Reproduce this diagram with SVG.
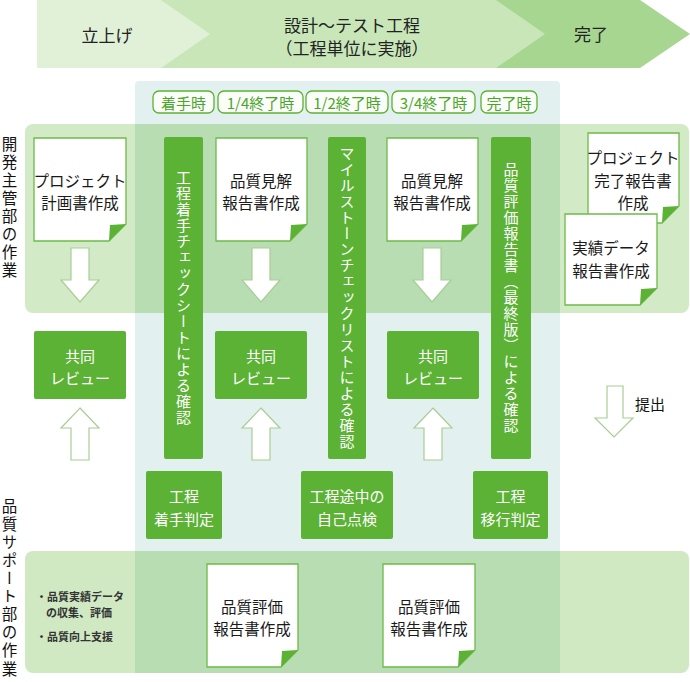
<svg xmlns="http://www.w3.org/2000/svg" width="690" height="682" viewBox="0 0 690 682">
<style>
text{font-family:"Noto Sans CJK JP","Noto Sans",sans-serif;}
.ban{font-size:17px;fill:#222;text-anchor:middle;dominant-baseline:central;}
.lbl{fill:#fbfdf9;stroke:#5cb234;stroke-width:1.3;}
.lblt{font-size:15px;fill:#4ca52b;text-anchor:middle;dominant-baseline:central;}
.doc{fill:#fff;stroke:#6cbb48;stroke-width:1.3;}
.fold{fill:#5cb234;}
.dt{font-size:15.5px;fill:#1a1a1a;text-anchor:middle;dominant-baseline:central;}
.box{fill:#5cb234;}
.bt{font-size:15px;fill:#fff;text-anchor:middle;dominant-baseline:central;}
.vt{font-size:15px;fill:#fff;writing-mode:vertical-rl;text-anchor:middle;letter-spacing:1px;}
.side{font-size:15.5px;fill:#111;writing-mode:vertical-rl;letter-spacing:2.6px;}
.arr{fill:#fff;stroke:#a9cd95;stroke-width:1.2;}
.note{font-size:11px;fill:#333;font-weight:bold;}
</style>

<g id="banner">
  <polygon points="480,0 640,0 690,34 640,68 480,68" fill="#a6d68f"/>
  <polygon points="161,0 496,0 545,34 496,68 161,68" fill="#c8e6b8"/>
  <polygon points="37,0 161,0 210,34 161,68 37,68" fill="#e0f1d8"/>
  <text class="ban" x="107" y="34">立上げ</text>
  <text class="ban" x="352" y="24">設計〜テスト工程</text>
  <text class="ban" x="352" y="47">（工程単位に実施）</text>
  <text class="ban" x="591" y="33">完了</text>
</g>

<g id="backgrounds">
  <rect x="135" y="81" width="425" height="592" rx="4" fill="#e3f0f0"/>
  <rect x="25" y="124" width="664" height="189" rx="8" fill="#d3eac7"/>
  <rect x="135" y="124" width="425" height="189" fill="#b9ddb2"/>
  <rect x="25" y="551" width="664" height="122" rx="8" fill="#d0e9c3"/>
  <rect x="135" y="551" width="425" height="122" fill="#b9ddb2"/>
</g>

<g id="side-labels">
  <text class="side" x="9.5" y="136">開発主管部の作業</text>
  <text class="side" x="9.5" y="498">品質サポート部の作業</text>
</g>

<g id="time-labels">
  <rect class="lbl" x="153" y="91" width="61" height="22" rx="6"/>
  <text class="lblt" x="183.5" y="102">着手時</text>
  <rect class="lbl" x="218" y="91" width="85" height="22" rx="6"/>
  <text class="lblt" x="260.5" y="102">1/4終了時</text>
  <rect class="lbl" x="306" y="91" width="82" height="22" rx="6"/>
  <text class="lblt" x="347" y="102">1/2終了時</text>
  <rect class="lbl" x="392" y="91" width="83" height="22" rx="6"/>
  <text class="lblt" x="433.5" y="102">3/4終了時</text>
  <rect class="lbl" x="481" y="91" width="56" height="22" rx="6"/>
  <text class="lblt" x="509" y="102">完了時</text>
</g>

<g id="connectors">
  <path class="arr" d="M71,248 H89 V280 H99 L80,302 L61,280 H71 Z"/>
  <path class="arr" d="M252,248 H270 V280 H280 L261,302 L242,280 H252 Z"/>
  <path class="arr" d="M423,248 H441 V280 H451 L432,302 L413,280 H423 Z"/>
  <path class="arr" d="M80,408 L99,428 H89 V460 H71 V428 H61 Z"/>
  <path class="arr" d="M261,408 L280,428 H270 V460 H252 V428 H242 Z"/>
  <path class="arr" d="M433,408 L452,428 H442 V460 H424 V428 H414 Z"/>
  <path class="arr" d="M607,386 H623 V418 H633 L614,437 L595,418 H607 Z"/>
  <text x="635" y="403" font-size="15" fill="#111" dominant-baseline="central">提出</text>
</g>

<g id="doc-plan">
  <path class="doc" d="M34,138 H126 V224 L109,241 H34 Z"/>
  <path class="fold" d="M126,224 L109,241 L110,225 Z"/>
  <text class="dt" x="80" y="180">プロジェクト</text>
  <text class="dt" x="80" y="202">計画書作成</text>
</g>

<g id="doc-opinion1">
  <path class="doc" d="M216,138 H307 V224 L290,241 H216 Z"/>
  <path class="fold" d="M307,224 L290,241 L291,225 Z"/>
  <text class="dt" x="261" y="180">品質見解</text>
  <text class="dt" x="261" y="202">報告書作成</text>
</g>

<g id="doc-opinion2">
  <path class="doc" d="M387,138 H478 V224 L461,241 H387 Z"/>
  <path class="fold" d="M478,224 L461,241 L462,225 Z"/>
  <text class="dt" x="432" y="180">品質見解</text>
  <text class="dt" x="432" y="202">報告書作成</text>
</g>

<g id="doc-complete">
  <path class="doc" d="M588,133 H679 V206 L662,223 H588 Z"/>
  <path class="fold" d="M679,206 L662,223 L663,207 Z"/>
  <text class="dt" x="633" y="157">プロジェクト</text>
  <text class="dt" x="633" y="180">完了報告書</text>
  <text class="dt" x="633" y="202">作成</text>
</g>

<g id="doc-actual">
  <path class="doc" d="M565,214 H657 V288 L640,305 H565 Z"/>
  <path class="fold" d="M657,288 L640,305 L641,289 Z"/>
  <text class="dt" x="611" y="247">実績データ</text>
  <text class="dt" x="611" y="270">報告書作成</text>
</g>

<g id="bar-start-check">
  <rect class="box" x="164" y="137" width="39" height="322" rx="2"/>
  <text class="vt" x="183.5" y="298">工程着手チェックシートによる確認</text>
</g>

<g id="bar-milestone">
  <rect class="box" x="328" y="137" width="38" height="322" rx="2"/>
  <text class="vt" x="347" y="298">マイルストーンチェックリストによる確認</text>
</g>

<g id="bar-final">
  <rect class="box" x="491" y="137" width="40" height="322" rx="2"/>
  <text class="vt" x="511" y="298">品質評価報告書（最終版）による確認</text>
</g>

<g id="review1">
  <rect class="box" x="34" y="331" width="92" height="68" rx="2"/>
  <text class="bt" x="80" y="355">共同</text>
  <text class="bt" x="80" y="377">レビュー</text>
</g>
<g id="review2">
  <rect class="box" x="215" y="331" width="92" height="68" rx="2"/>
  <text class="bt" x="261" y="355">共同</text>
  <text class="bt" x="261" y="377">レビュー</text>
</g>
<g id="review3">
  <rect class="box" x="387" y="331" width="92" height="68" rx="2"/>
  <text class="bt" x="433" y="355">共同</text>
  <text class="bt" x="433" y="377">レビュー</text>
</g>

<g id="judge-start">
  <rect class="box" x="146" y="471" width="76" height="68" rx="2"/>
  <text class="bt" x="184" y="495">工程</text>
  <text class="bt" x="184" y="518">着手判定</text>
</g>
<g id="self-check">
  <rect class="box" x="301" y="471" width="92" height="68" rx="2"/>
  <text class="bt" x="347" y="495">工程途中の</text>
  <text class="bt" x="347" y="518">自己点検</text>
</g>
<g id="judge-move">
  <rect class="box" x="473" y="471" width="75" height="68" rx="2"/>
  <text class="bt" x="510.5" y="495">工程</text>
  <text class="bt" x="510.5" y="518">移行判定</text>
</g>

<g id="support-notes">
  <text class="note" x="36" y="601">・品質実績データ</text>
  <text class="note" x="79" y="617" text-anchor="middle">の収集、評価</text>
  <text class="note" x="36" y="641">・品質向上支援</text>
</g>

<g id="doc-eval1">
  <path class="doc" d="M207,564 H298 V650 L281,667 H207 Z"/>
  <path class="fold" d="M298,650 L281,667 L282,651 Z"/>
  <text class="dt" x="252" y="606">品質評価</text>
  <text class="dt" x="252" y="628">報告書作成</text>
</g>
<g id="doc-eval2">
  <path class="doc" d="M383,564 H475 V650 L458,667 H383 Z"/>
  <path class="fold" d="M475,650 L458,667 L459,651 Z"/>
  <text class="dt" x="429" y="606">品質評価</text>
  <text class="dt" x="429" y="628">報告書作成</text>
</g>
</svg>
